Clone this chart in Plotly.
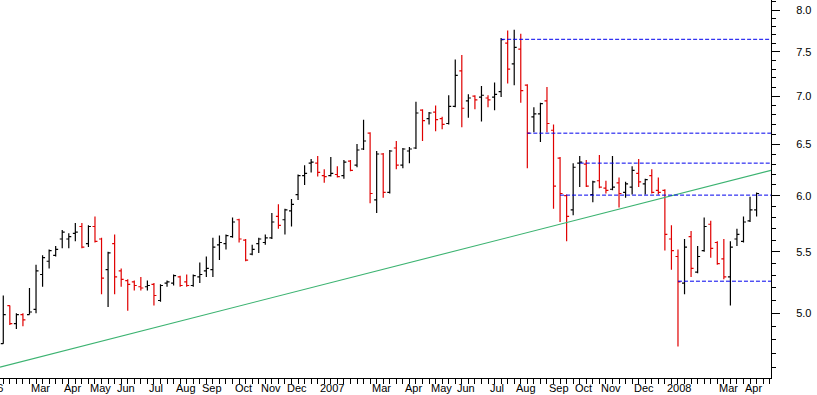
import math
import plotly.graph_objects as go

# ---------------- data (weekly bars, index 0 = week ending 3 Feb 2006) ----------------
week_index = list(range(116))

opens = [4.77, 5.06, 4.92, 4.99, 4.99, 5.03, 5.31, 5.42, 5.47, 5.61,
         5.61, 5.66, 5.72, 5.57, 5.72, 5.61, 5.35, 5.57, 5.34, 5.26,
         5.25, 5.21, 5.21, 5.23, 5.10, 5.24, 5.24, 5.29, 5.25, 5.22,
         5.29, 5.34, 5.35, 5.56, 5.57, 5.63, 5.78, 5.60, 5.48, 5.57,
         5.58, 5.62, 5.81, 5.78, 5.86, 6.01, 6.19, 6.31, 6.31, 6.19,
         6.19, 6.20, 6.19, 6.33, 6.29, 6.45, 6.61, 5.96, 6.40, 6.03,
         6.46, 6.29, 6.43, 6.46, 6.85, 6.76, 6.83, 6.76, 6.71, 6.89,
         7.28, 6.95, 7.00, 6.99, 6.98, 6.99, 7.05, 7.60, 7.36, 7.53,
         7.12, 6.78, 6.81, 6.95, 6.64, 6.36, 6.00, 5.87, 6.31, 6.30,
         6.01, 6.14, 6.07, 6.06, 6.12, 6.03, 6.08, 6.21, 6.11, 6.19,
         6.05, 6.05, 5.61, 5.46, 5.24, 5.63, 5.33, 5.51, 5.74, 5.58,
         5.44, 5.29, 5.61, 5.59, 5.77, 5.87]

highs = [5.14, 5.06, 5.00, 5.00, 5.20, 5.39, 5.47, 5.52, 5.55, 5.69,
         5.66, 5.75, 5.75, 5.73, 5.81, 5.62, 5.50, 5.65, 5.36, 5.27,
         5.26, 5.29, 5.26, 5.24, 5.23, 5.26, 5.31, 5.30, 5.31, 5.31,
         5.41, 5.46, 5.62, 5.64, 5.65, 5.80, 5.79, 5.61, 5.56, 5.62,
         5.65, 5.84, 5.92, 5.88, 5.97, 6.20, 6.29, 6.35, 6.38, 6.25,
         6.37, 6.28, 6.34, 6.34, 6.50, 6.75, 6.62, 6.43, 6.41, 6.44,
         6.53, 6.46, 6.47, 6.94, 6.86, 6.83, 6.90, 6.78, 7.01, 7.41,
         7.46, 7.02, 7.01, 7.11, 7.01, 7.15, 7.66, 7.75, 7.76, 7.71,
         7.13, 6.88, 6.93, 7.10, 6.70, 6.37, 6.01, 6.31, 6.38, 6.34,
         6.14, 6.39, 6.14, 6.38, 6.17, 6.13, 6.28, 6.35, 6.16, 6.25,
         6.17, 6.06, 5.73, 5.52, 5.61, 5.68, 5.55, 5.80, 5.77, 5.59,
         5.61, 5.59, 5.70, 5.81, 5.99, 6.03]

lows = [4.77, 4.91, 4.88, 4.90, 4.99, 5.00, 5.21, 5.36, 5.46, 5.53,
        5.53, 5.59, 5.53, 5.54, 5.58, 5.15, 5.05, 5.15, 5.21, 5.02,
        5.18, 5.18, 5.18, 5.06, 5.09, 5.21, 5.22, 5.21, 5.21, 5.21,
        5.24, 5.29, 5.29, 5.43, 5.52, 5.62, 5.58, 5.42, 5.47, 5.49,
        5.56, 5.61, 5.70, 5.65, 5.72, 5.96, 6.10, 6.22, 6.18, 6.12,
        6.18, 6.17, 6.16, 6.23, 6.27, 6.44, 5.93, 5.84, 5.98, 6.02,
        6.25, 6.26, 6.31, 6.45, 6.53, 6.70, 6.63, 6.65, 6.70, 6.88,
        6.67, 6.77, 6.86, 6.73, 6.88, 6.85, 6.99, 7.14, 7.12, 6.93,
        6.26, 6.62, 6.52, 6.62, 5.88, 5.76, 5.59, 5.82, 6.08, 6.08,
        5.94, 6.07, 6.02, 6.05, 5.89, 5.98, 6.01, 6.08, 6.01, 6.02,
        6.01, 5.51, 5.35, 4.75, 5.15, 5.29, 5.32, 5.50, 5.45, 5.39,
        5.27, 5.06, 5.55, 5.58, 5.76, 5.81]

closes = [4.99, 4.92, 4.99, 4.95, 5.01, 5.34, 5.45, 5.51, 5.52, 5.67,
          5.63, 5.67, 5.54, 5.72, 5.59, 5.28, 5.49, 5.29, 5.27, 5.23,
          5.22, 5.20, 5.22, 5.14, 5.22, 5.25, 5.30, 5.22, 5.22, 5.30,
          5.31, 5.36, 5.54, 5.58, 5.64, 5.76, 5.61, 5.43, 5.52, 5.61,
          5.62, 5.76, 5.73, 5.87, 5.92, 6.19, 6.21, 6.32, 6.22, 6.18,
          6.21, 6.18, 6.32, 6.24, 6.44, 6.53, 6.02, 6.40, 6.03, 6.43,
          6.29, 6.45, 6.45, 6.82, 6.74, 6.82, 6.75, 6.70, 6.89, 7.23,
          6.87, 6.98, 6.96, 7.01, 6.96, 7.02, 7.64, 7.30, 7.55, 7.06,
          6.61, 6.81, 6.92, 6.71, 6.09, 6.02, 5.81, 6.27, 6.32, 6.09,
          6.13, 6.08, 6.05, 6.08, 6.02, 6.11, 6.24, 6.13, 6.15, 6.03,
          6.03, 5.65, 5.51, 5.25, 5.54, 5.36, 5.46, 5.72, 5.53, 5.40,
          5.29, 5.54, 5.65, 5.76, 5.87, 6.02]

# month tick positions (bar index of first week of the month) and labels
month_tick_index = [-4, 4, 9, 13, 17, 22, 26, 30, 35, 39, 43, 48, 56, 61, 65, 69,
                    74, 78, 83, 87, 91, 96, 101, 109, 113, 117]
month_tick_label = ["2006", "Mar", "Apr", "May", "Jun", "Jul", "Aug", "Sep", "Oct", "Nov",
                    "Dec", "2007", "Mar", "Apr", "May", "Jun", "Jul", "Aug", "Sep", "Oct",
                    "Nov", "Dec", "2008", "Mar", "Apr", ""]

price_ticks = [5.0, 5.5, 6.0, 6.5, 7.0, 7.5, 8.0]
price_tick_labels = ["5.0", "5.5", "6.0", "6.5", "7.0", "7.5", "8.0"]
price_minor = [4.6, 4.7, 4.8, 4.9, 5.1, 5.2, 5.3, 5.4, 5.6, 5.7, 5.8, 5.9,
               6.1, 6.2, 6.3, 6.4, 6.6, 6.7, 6.8, 6.9, 7.1, 7.2, 7.3, 7.4,
               7.6, 7.7, 7.8, 7.9, 8.1]

# trend line (index, price) endpoints
trend_index = [-0.5, 117.2]
trend_price = [4.60, 6.24]

# horizontal support / resistance levels: start index and price
level_start = [76, 80, 88, 85, 103]
level_price = [7.645, 6.61, 6.31, 6.005, 5.255]

# ---------------- figure ----------------
X_MIN, X_MAX = -0.5, 117.2
Y_MIN, Y_MAX = 4.523, 8.125
FONT = dict(family="Arial, Liberation Sans", size=11, color="#000")

fig = go.Figure()

fig.add_trace(go.Ohlc(
    x=week_index, open=opens, high=highs, low=lows, close=closes,
    increasing=dict(line=dict(color="#000000", width=1.2)),
    decreasing=dict(line=dict(color="#e00000", width=1.2)),
    tickwidth=0.38, hoverinfo="skip", showlegend=False,
))

fig.add_trace(go.Scatter(
    x=trend_index, y=trend_price, mode="lines",
    line=dict(color="#3cb371", width=1.1), hoverinfo="skip", showlegend=False,
))

for s, p in zip(level_start, level_price):
    fig.add_trace(go.Scatter(
        x=[s, X_MAX], y=[p, p], mode="lines",
        line=dict(color="#0000ee", width=1, dash="4px,2px"),
        hoverinfo="skip", showlegend=False,
    ))

annotations = []
for idx, lab in zip(month_tick_index, month_tick_label):
    if not lab:
        continue
    if X_MIN <= idx <= X_MAX:
        xpos, xref = idx, "x"
    else:
        xpos, xref = (idx - X_MIN) / (X_MAX - X_MIN), "paper"
    annotations.append(dict(x=xpos, xref=xref, y=0, yref="paper",
                            text=lab, showarrow=False, xanchor="left", yanchor="top",
                            xshift=0, yshift=-2, font=FONT))

fig.update_layout(
    template="none",
    width=817, height=395,
    margin=dict(l=0, r=46, t=0, b=17, pad=0),
    paper_bgcolor="white", plot_bgcolor="white",
    font=FONT,
    showlegend=False,
    annotations=annotations,
    xaxis=dict(
        range=[X_MIN, X_MAX], showgrid=False, zeroline=False, automargin=False,
        rangeslider=dict(visible=False),
        showline=True, linecolor="#000", linewidth=1,
        tickmode="array", tickvals=[i for i in month_tick_index if i >= 0],
        ticktext=["" for i in month_tick_index if i >= 0],
        ticks="outside", ticklen=17, tickwidth=1, tickcolor="#000",
        minor=dict(tickvals=week_index + [116, 117], ticks="outside", ticklen=5,
                   tickwidth=1, tickcolor="#000", showgrid=False),
        fixedrange=True,
    ),
    yaxis=dict(
        type="log", side="right", automargin=False,
        range=[math.log10(Y_MIN), math.log10(Y_MAX)],
        showgrid=False, zeroline=False,
        showline=True, linecolor="#000", linewidth=1,
        tickmode="array", tickvals=price_ticks, ticktext=price_tick_labels,
        ticks="outside", ticklen=8, tickwidth=1, tickcolor="#000",
        ticklabelstandoff=14,
        minor=dict(tickvals=price_minor, ticks="outside", ticklen=4,
                   tickwidth=1, tickcolor="#000", showgrid=False),
        tickfont=FONT,
        fixedrange=True,
    ),
)

fig.write_html("out.html", config={"displayModeBar": False},
               post_script="document.body.style.margin='0';document.body.style.overflow='hidden';")
